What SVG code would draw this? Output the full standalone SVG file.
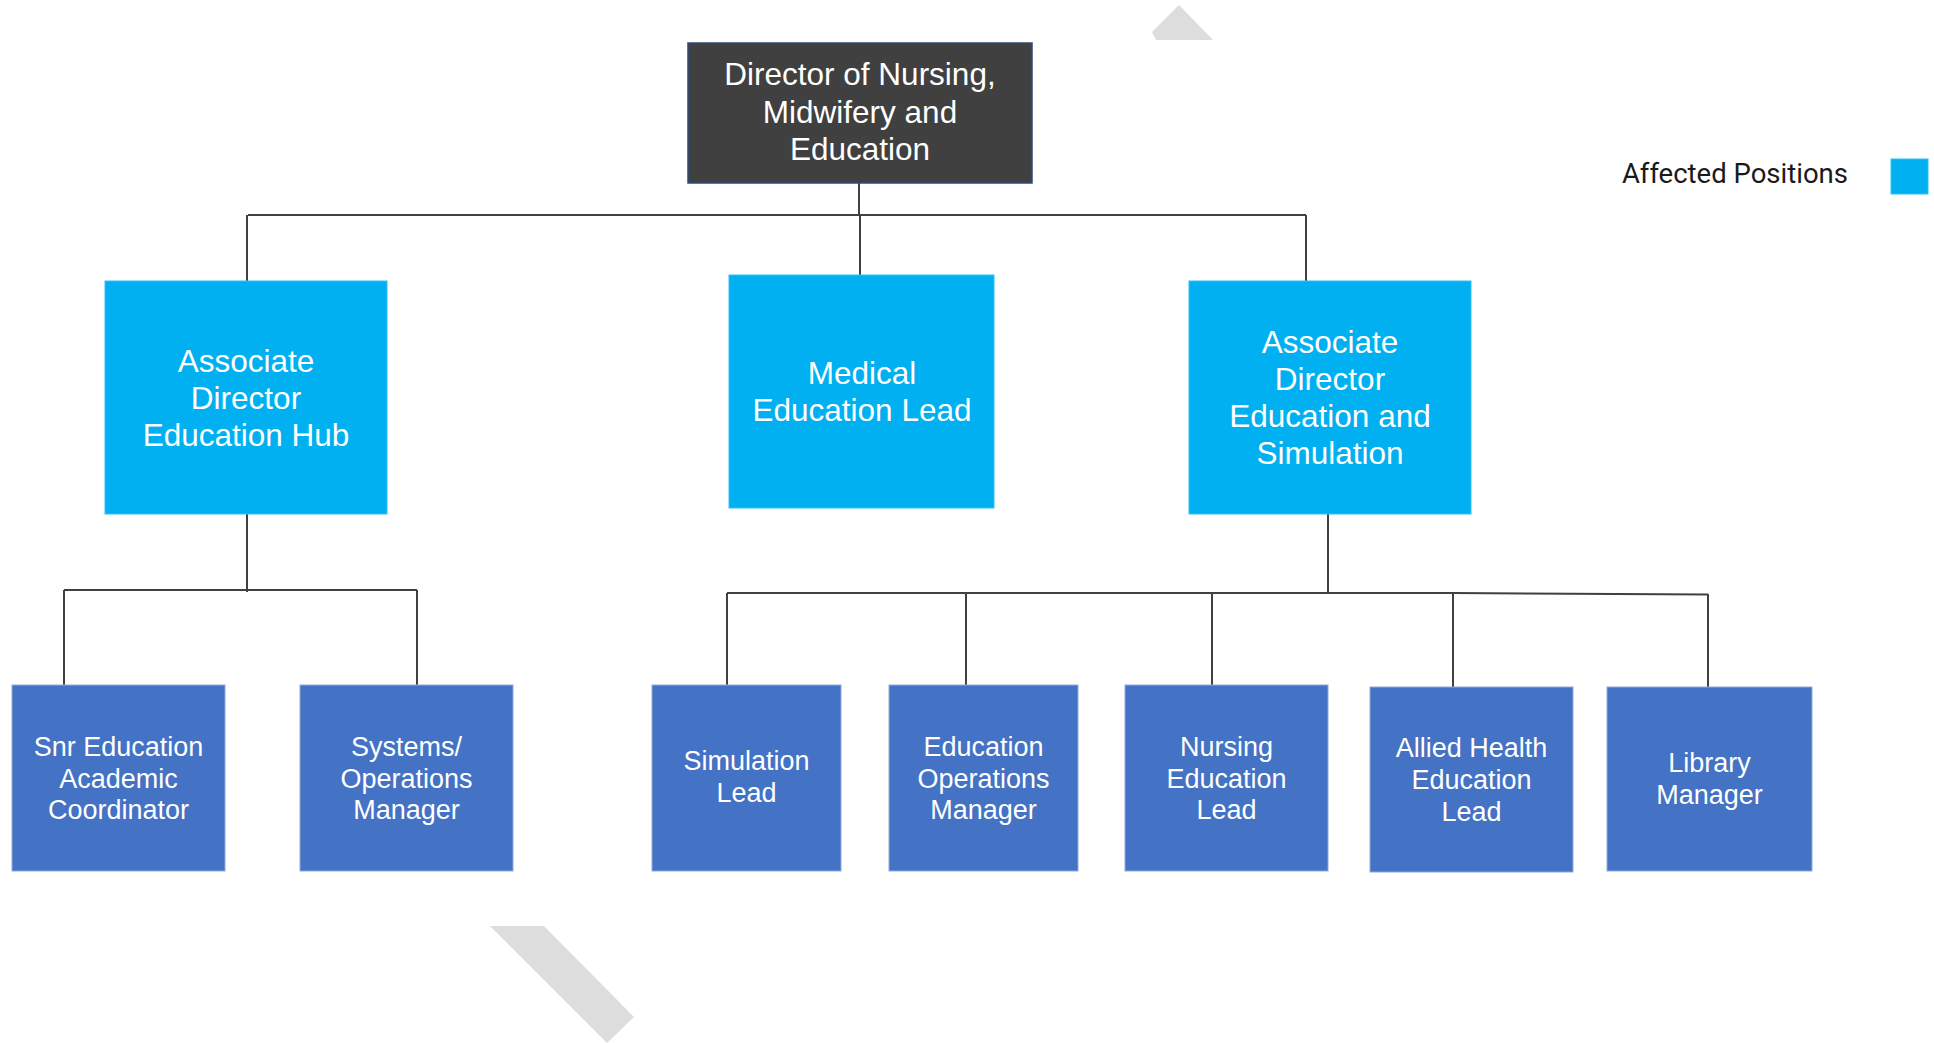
<svg xmlns="http://www.w3.org/2000/svg" width="1934" height="1043" viewBox="0 0 1934 1043">
  <style>
    .lbl { font-family: "Liberation Sans", Arial, sans-serif; fill: #FFFFFF; text-anchor: middle; }
    .l1 { font-size: 31.5px; }
    .l2 { font-size: 31.5px; }
    .l3 { font-size: 27px; }
    .top { fill: #404040; stroke: #2F4A7A; stroke-width: 1.5; }
    .aff { fill: #00B0F0; stroke: #33C0F3; stroke-width: 1; }
    .std { fill: #4472C4; stroke: #8FAADC; stroke-width: 1; }
    .conn { fill: none; stroke: #404040; stroke-width: 2; }
    .wm { fill: #DDDDDD; }
  </style>

  <!-- background marks -->
  <polygon class="wm" points="1179,5 1213,40 1156,40 1152,32"/>
  <polygon class="wm" points="490,926 544,926 634,1017 607,1043"/>

  <!-- connectors -->
  <g id="connectors">
    <path class="conn" d="M859,183 V215"/>
    <path class="conn" d="M248,215 H1306"/>
    <path class="conn" d="M247,215 V281"/>
    <path class="conn" d="M860,215 V275"/>
    <path class="conn" d="M1306,215 V281"/>
    <path class="conn" d="M247,514 V592"/>
    <path class="conn" d="M64,590 H417"/>
    <path class="conn" d="M64,590 V685"/>
    <path class="conn" d="M417,590 V685"/>
    <path class="conn" d="M1328,514 V593"/>
    <path class="conn" d="M727,593 H1453 L1708,594.5"/>
    <path class="conn" d="M727,593 V685"/>
    <path class="conn" d="M966,593 V685"/>
    <path class="conn" d="M1212,593 V685"/>
    <path class="conn" d="M1453,593 V687"/>
    <path class="conn" d="M1708,594 V687"/>
  </g>

  <!-- level 1 -->
  <g id="director">
    <rect class="top" x="688" y="43" width="344" height="140"/>
    <text class="lbl l1" x="860" y="85">Director of Nursing,</text>
    <text class="lbl l1" x="860" y="123">Midwifery and</text>
    <text class="lbl l1" x="860" y="160">Education</text>
  </g>

  <!-- level 2 -->
  <g id="assoc-director-hub">
    <rect class="aff" x="105" y="281" width="282" height="233"/>
    <text class="lbl l2" x="246" y="372">Associate</text>
    <text class="lbl l2" x="246" y="409">Director</text>
    <text class="lbl l2" x="246" y="446">Education Hub</text>
  </g>
  <g id="medical-education-lead">
    <rect class="aff" x="729" y="275" width="265" height="233"/>
    <text class="lbl l2" x="862" y="384">Medical</text>
    <text class="lbl l2" x="862" y="421">Education Lead</text>
  </g>
  <g id="assoc-director-simulation">
    <rect class="aff" x="1189" y="281" width="282" height="233"/>
    <text class="lbl l2" x="1330" y="353">Associate</text>
    <text class="lbl l2" x="1330" y="390">Director</text>
    <text class="lbl l2" x="1330" y="427">Education and</text>
    <text class="lbl l2" x="1330" y="464">Simulation</text>
  </g>

  <!-- level 3 -->
  <g id="snr-education-coordinator">
    <rect class="std" x="12" y="685" width="213" height="186"/>
    <text class="lbl l3" x="118.5" y="756">Snr Education</text>
    <text class="lbl l3" x="118.5" y="788">Academic</text>
    <text class="lbl l3" x="118.5" y="819">Coordinator</text>
  </g>
  <g id="systems-operations-manager">
    <rect class="std" x="300" y="685" width="213" height="186"/>
    <text class="lbl l3" x="406.5" y="756">Systems/</text>
    <text class="lbl l3" x="406.5" y="788">Operations</text>
    <text class="lbl l3" x="406.5" y="819">Manager</text>
  </g>
  <g id="simulation-lead">
    <rect class="std" x="652" y="685" width="189" height="186"/>
    <text class="lbl l3" x="746.5" y="770">Simulation</text>
    <text class="lbl l3" x="746.5" y="802">Lead</text>
  </g>
  <g id="education-operations-manager">
    <rect class="std" x="889" y="685" width="189" height="186"/>
    <text class="lbl l3" x="983.5" y="756">Education</text>
    <text class="lbl l3" x="983.5" y="788">Operations</text>
    <text class="lbl l3" x="983.5" y="819">Manager</text>
  </g>
  <g id="nursing-education-lead">
    <rect class="std" x="1125" y="685" width="203" height="186"/>
    <text class="lbl l3" x="1226.5" y="756">Nursing</text>
    <text class="lbl l3" x="1226.5" y="788">Education</text>
    <text class="lbl l3" x="1226.5" y="819">Lead</text>
  </g>
  <g id="allied-health-education-lead">
    <rect class="std" x="1370" y="687" width="203" height="185"/>
    <text class="lbl l3" x="1471.5" y="757">Allied Health</text>
    <text class="lbl l3" x="1471.5" y="789">Education</text>
    <text class="lbl l3" x="1471.5" y="821">Lead</text>
  </g>
  <g id="library-manager">
    <rect class="std" x="1607" y="687" width="205" height="184"/>
    <text class="lbl l3" x="1709.5" y="772">Library</text>
    <text class="lbl l3" x="1709.5" y="804">Manager</text>
  </g>

  <!-- legend -->
  <g id="legend">
    <text x="1848" y="183" font-family="Roboto, 'Liberation Sans', sans-serif" font-size="27.5" fill="#1A1A1A" text-anchor="end">Affected Positions</text>
    <rect x="1891" y="159" width="37" height="35" fill="#00B0F0" stroke="#33C0F3" stroke-width="1"/>
  </g>
</svg>
